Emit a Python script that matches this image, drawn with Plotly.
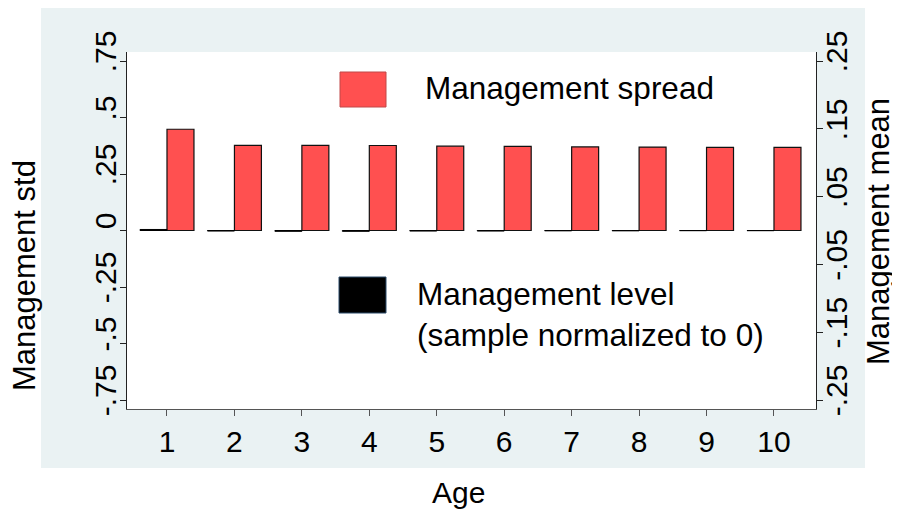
import plotly.graph_objects as go

# ---- data ----
ages = [1, 2, 3, 4, 5, 6, 7, 8, 9, 10]
age_labels = ["1", "2", "3", "4", "5", "6", "7", "8", "9", "10"]
mgmt_spread = [0.448, 0.377, 0.377, 0.376, 0.373, 0.372, 0.370, 0.369, 0.368, 0.368]   # left axis (std)
mgmt_level = [0.0015, -0.0008, -0.0012, -0.0012, -0.0008, -0.0008, -0.0005, -0.0005, -0.0003, -0.0003]  # right axis (mean)

left_ticks = [-0.75, -0.5, -0.25, 0, 0.25, 0.5, 0.75]
left_labels = ["-.75", "-.5", "-.25", "0", ".25", ".5", ".75"]
right_ticks = [-0.25, -0.15, -0.05, 0.05, 0.15, 0.25]
right_labels = ["-.25", "-.15", "-.05", ".05", ".15", ".25"]
grid_vals = [-0.5, -0.25, 0, 0.25, 0.5]

FONT = "Liberation Sans, Arial, sans-serif"
BG = "#eaf2f3"
RED = "#ff5050"

fig = go.Figure()
fig.add_trace(go.Bar(
    x=ages, y=mgmt_level, yaxis="y2", width=0.4, offset=-0.4,
    marker=dict(color="black", line=dict(color="black", width=1)),
    name="Management level (sample normalized to 0)", showlegend=False))
fig.add_trace(go.Bar(
    x=ages, y=mgmt_spread, yaxis="y", width=0.4, offset=0,
    marker=dict(color=RED, line=dict(color="#111111", width=1.2)),
    name="Management spread", showlegend=False))

yr = 0.7898
axis_common = dict(showline=True, linecolor="#222222", linewidth=1, ticks="outside",
                   ticklen=6, tickcolor="#222222", showgrid=False, zeroline=False,
                   tickfont=dict(family=FONT, size=30, color="black"))

# page has an 8px body margin, so the figure is placed at (8, 8) in the window
fig.update_layout(
    width=892, height=503,
    margin=dict(l=119, r=84, t=44, b=102),
    paper_bgcolor="white", plot_bgcolor="white",
    barmode="overlay", showlegend=False,
    font=dict(family=FONT, color="black"),
    xaxis=dict(range=[0.407, 10.623], tickvals=ages, ticktext=age_labels,
               **{**axis_common, "linecolor": "#555555", "tickcolor": "#555555"}),
    yaxis=dict(range=[-yr, yr], tickvals=left_ticks, ticktext=left_labels,
               tickangle=-90, ticklabelshift=-5, ticklabelstandoff=-8, **axis_common),
    yaxis2=dict(range=[-yr / 3, yr / 3], tickvals=right_ticks, ticktext=right_labels,
                overlaying="y", side="right", anchor="x",
                tickangle=-90, ticklabelshift=-5, ticklabelstandoff=-12, **axis_common),
    yaxis3=dict(range=[-yr, yr], tickvals=grid_vals, overlaying="y", anchor="x",
                showticklabels=False, ticks="", showline=False, zeroline=False,
                showgrid=True, gridcolor=BG, gridwidth=1.5),
)

# helpers: screenshot pixel -> paper coords (plot area spans x 127..816, y 52..409)
def px(xp):
    return (xp - 127) / 689

def py(yp):
    return (409 - yp) / 357

shapes = [
    dict(type="rect", xref="paper", yref="paper", x0=px(41), x1=px(865), y0=py(468), y1=py(4),
         fillcolor=BG, line=dict(width=0), layer="below"),
    dict(type="rect", xref="paper", yref="paper", x0=0, x1=1, y0=0, y1=1,
         fillcolor="white", line=dict(width=0), layer="below"),
    # legend keys
    dict(type="rect", xref="paper", yref="paper", x0=px(340), x1=px(386), y0=py(107), y1=py(72),
         fillcolor=RED, line=dict(color="#c04848", width=1)),
    dict(type="rect", xref="paper", yref="paper", x0=px(339), x1=px(386), y0=py(313), y1=py(277),
         fillcolor="black", line=dict(color="#2a4a6a", width=1)),
]
fig.update_layout(shapes=shapes)

annotations = [
    dict(text="Management std", x=px(24), y=py(276), xref="paper", yref="paper",
         textangle=-90, showarrow=False, xanchor="center", yanchor="middle",
         font=dict(family=FONT, size=31, color="black")),
    dict(text="Management mean", x=px(878), y=py(232), xref="paper", yref="paper",
         textangle=-90, showarrow=False, xanchor="center", yanchor="middle",
         font=dict(family=FONT, size=31, color="black")),
    dict(text="Age", x=px(458), y=py(492), xref="paper", yref="paper",
         showarrow=False, xanchor="center", yanchor="middle",
         font=dict(family=FONT, size=30, color="black")),
    dict(text="Management spread", x=px(423), y=py(88.5), xref="paper", yref="paper",
         showarrow=False, xanchor="left", yanchor="middle",
         font=dict(family=FONT, size=31.5, color="black")),
    dict(text="Management level<br>(sample normalized to 0)", x=px(415), y=py(314),
         xref="paper", yref="paper", showarrow=False, xanchor="left", yanchor="middle",
         align="left", font=dict(family=FONT, size=31.5, color="black")),
]
fig.update_layout(annotations=annotations)

fig.write_html("out.html")
